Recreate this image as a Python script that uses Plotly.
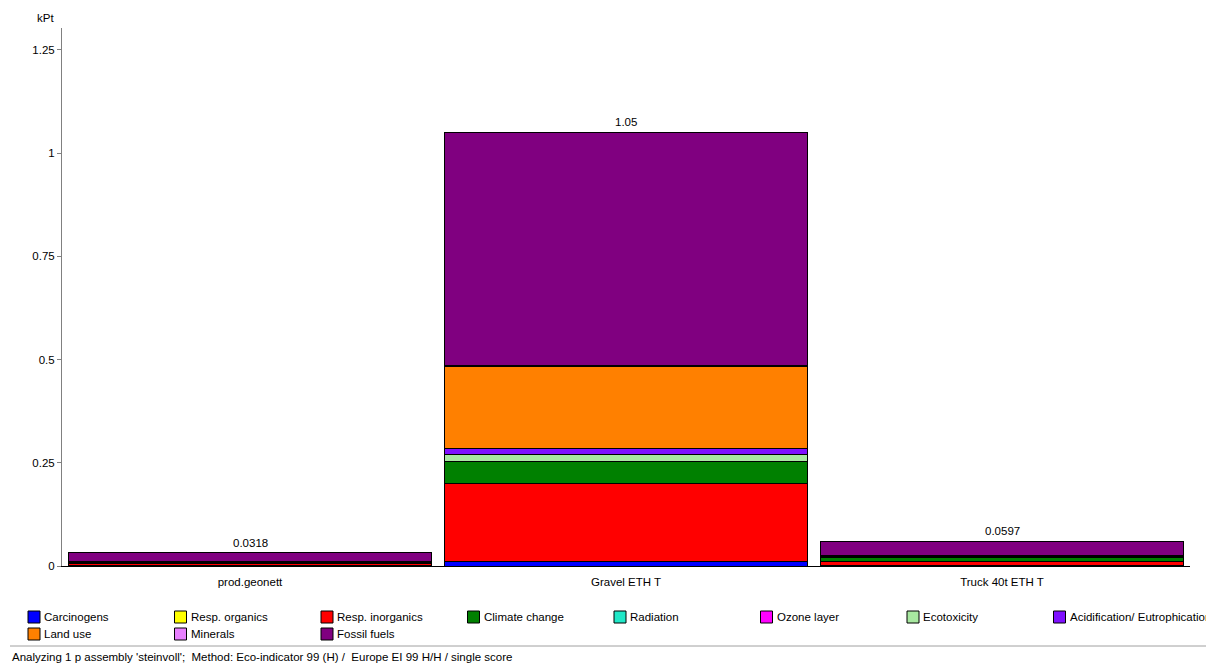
import plotly.graph_objects as go

products = ["prod.geonett", "Gravel ETH T", "Truck 40t ETH T"]

impact_names = ["Carcinogens", "Resp. organics", "Resp. inorganics", "Climate change",
                "Radiation", "Ozone layer", "Ecotoxicity", "Acidification/ Eutrophication",
                "Land use", "Minerals", "Fossil fuels"]

carcinogens = [0.0005, 0.0104, 0.0010]
resp_organics = [0.0000, 0.0002, 0.0001]
resp_inorganics = [0.0060, 0.1890, 0.0110]
climate_change = [0.0020, 0.0540, 0.0095]
radiation = [0.0001, 0.0005, 0.0001]
ozone_layer = [0.0000, 0.0001, 0.0000]
ecotoxicity = [0.0002, 0.0150, 0.0005]
acidification = [0.0005, 0.0160, 0.0015]
land_use = [0.0003, 0.1990, 0.0008]
minerals = [0.0001, 0.0008, 0.0001]
fossil_fuels = [0.0221, 0.5650, 0.0351]

colors = ["#0000FF", "#FFFF00", "#FF0000", "#008000", "#20E8C8", "#FF00FF",
          "#A8E8A0", "#7F10FF", "#FF8000", "#E880FF", "#800080"]

series = [carcinogens, resp_organics, resp_inorganics, climate_change, radiation,
          ozone_layer, ecotoxicity, acidification, land_use, minerals, fossil_fuels]

yticks = [0, 0.25, 0.5, 0.75, 1, 1.25]
ytick_labels = ["0", "0.25", "0.5", "0.75", "1", "1.25"]

FONT = "Liberation Sans, Arial, sans-serif"

# the page body has an 8px margin, so the figure is drawn from (8, 8)
OFF = 8
W, H = 1214 - OFF, 666 - OFF
PL, PR, PT, PB = 62, 1190, 28, 566          # plot area in page pixels
ML, MR, MT, MB = PL - OFF, W - (PR - OFF), PT - OFF, H - (PB - OFF)
PW, PH = PR - PL, PB - PT


def px(x):
    return (x - PL) / PW


def py(y):
    return (PB - y) / PH


fig = go.Figure()
for name, vals, col in zip(impact_names, series, colors):
    fig.add_trace(go.Bar(
        x=products, y=vals, name=name,
        marker=dict(color=col, line=dict(color="#000000", width=1)),
        width=0.965, showlegend=False,
    ))

totals = [sum(v[i] for v in series) for i in range(len(products))]

# legend laid out as a grid (8 columns)
shapes = []
annotations = []
for p, t in zip(products, totals):
    annotations.append(dict(text=f"{t:.3g}", x=p, y=t, xref="x", yref="y",
                            xanchor="center", yanchor="bottom", yshift=2,
                            showarrow=False,
                            font=dict(size=11.5, family=FONT, color="#000000")))

col_step = 146.5
for i, (name, col) in enumerate(zip(impact_names, colors)):
    r, c = divmod(i, 8)
    x0 = 28 + c * col_step
    yc = 617 + r * 17
    shapes.append(dict(type="rect", xref="paper", yref="paper",
                       x0=px(x0), x1=px(x0 + 12), y0=py(yc + 6), y1=py(yc - 6),
                       fillcolor=col, line=dict(color="#000000", width=1)))
    annotations.append(dict(text=name, xref="paper", yref="paper",
                            x=px(x0 + 14), y=py(yc), xanchor="left", yanchor="middle",
                            showarrow=False, font=dict(size=11.5, family=FONT, color="#000000")))

annotations.append(dict(text="kPt", xref="paper", yref="paper", x=px(45), y=py(18),
                        xanchor="center", yanchor="middle", showarrow=False,
                        font=dict(size=11.5, family=FONT)))
annotations.append(dict(
    text="Analyzing 1 p assembly 'steinvoll';  Method: Eco-indicator 99 (H) /  Europe EI 99 H/H / single score",
    xref="paper", yref="paper", x=px(10), y=py(657),
    xanchor="left", yanchor="middle", showarrow=False,
    font=dict(size=11.5, family=FONT)))
shapes.append(dict(type="line", xref="paper", yref="paper",
                   x0=px(10), x1=px(1206), y0=py(646), y1=py(646),
                   line=dict(color="#A0A0A0", width=1)))

fig.update_layout(
    width=W, height=H,
    margin=dict(l=ML, r=MR, t=MT, b=MB, autoexpand=False),
    barmode="stack",
    bargap=0.035,
    plot_bgcolor="#FFFFFF",
    paper_bgcolor="#FFFFFF",
    font=dict(family=FONT, size=11.5, color="#000000"),
    showlegend=False,
    xaxis=dict(
        showgrid=False, zeroline=False,
        showline=True, linecolor="#000000", linewidth=1,
        ticks="", tickfont=dict(size=11.5, family=FONT),
        ticklabelstandoff=5,
        range=[-0.5, 2.5],
    ),
    yaxis=dict(
        range=[0, 1.303],
        showgrid=False, zeroline=False,
        showline=True, linecolor="#808080", linewidth=1,
        ticks="outside", ticklen=4, tickcolor="#808080",
        tickvals=yticks, ticktext=ytick_labels,
        tickfont=dict(size=11.5, family=FONT),
    ),
    annotations=annotations,
    shapes=shapes,
)

fig.write_html("out.html")
